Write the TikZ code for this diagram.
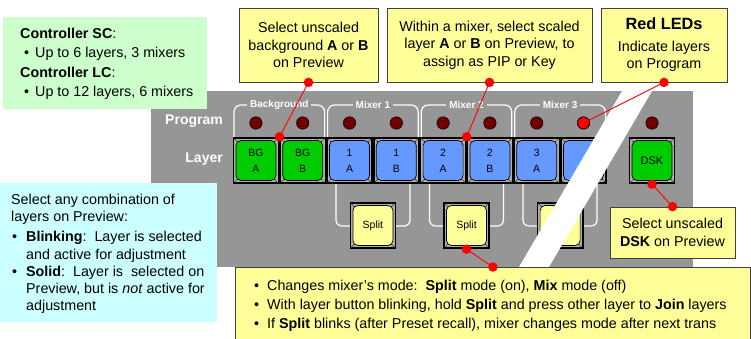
\documentclass[tikz,border=0pt]{standalone}
\usepackage{fontspec}
\setmainfont{Liberation Sans}
\usetikzlibrary{calc}

\definecolor{panel}{HTML}{969696}
\definecolor{notegreen}{HTML}{CCFFCC}
\definecolor{notecyan}{HTML}{CCFFFF}
\definecolor{noteyellow}{HTML}{FFFF99}
\definecolor{keygreen}{HTML}{00CC00}
\definecolor{keyblue}{HTML}{6699FF}
\definecolor{ledoff}{HTML}{6E0000}
\definecolor{bevel}{HTML}{AEAEAE}
\definecolor{pin}{HTML}{FF0000}

\newcommand{\bulbox}[1]{\makebox[#1][l]{\textbullet}}

\begin{document}
\begin{tikzpicture}[x=1pt,y=-1pt,
  callout/.style={draw=black!75, line width=0.8pt, fill=noteyellow, inner sep=0pt,
    align=center, font=\fontsize{14.3}{17.5}\selectfont},
  notetext/.style={anchor=north west, inner sep=0pt, align=left},
  bezel/.style={rectangle, fill=black, minimum width=46.8pt, minimum height=47pt, inner sep=0pt,
    path picture={
      \fill[bevel] ([shift={(1.6pt,1.6pt)}]path picture bounding box.south west)
        rectangle ([shift={(-1.6pt,-1.6pt)}]path picture bounding box.north east);
      \foreach \c/\sx/\sy in {south west/1/1,south east/-1/1,north west/1/-1,north east/-1/-1}
        \draw[black!80, line width=0.5pt]
          ([shift={(\sx*1.6pt,\sy*1.6pt)}]path picture bounding box.\c) --
          ([shift={(\sx*5.5pt,\sy*5.5pt)}]path picture bounding box.\c);
    }},
  keycap/.style={draw=black, line width=0.7pt, rounded corners=5pt, minimum size=40pt,
    inner sep=0pt, align=center, font=\fontsize{10.5}{16}\selectfont},
  led/.style={circle, fill=ledoff, draw=black, line width=0.5pt, minimum size=12.5pt, inner sep=0pt},
  groupline/.style={draw=white, line width=1.2pt, rounded corners=7pt},
  grouplabel/.style={fill=panel, text=white, inner xsep=3pt, inner ysep=1pt,
    font=\bfseries\fontsize{10}{12}\selectfont},
  rowlabel/.style={anchor=mid east, inner sep=0pt, text=white, font=\bfseries\fontsize{14}{16}\selectfont},
  pinline/.style={draw=pin, line width=0.9pt},
  pindot/.style={circle, fill=pin, minimum size=9.5pt, inner sep=0pt},
]
\useasboundingbox (0,0) rectangle (751,339);

% switcher panel
\fill[panel] (151,91) rectangle (693,267);

% info notes on the left
\node[fill=notegreen, minimum width=204pt, minimum height=92pt, anchor=north west, inner sep=0pt]
  (specs) at (3,17) {};
\node[notetext, font=\fontsize{14.3}{19.6}\selectfont] (specstext) at (20,27.5)
  {\textbf{Controller SC}:\\
   \hspace*{4pt}\bulbox{11pt}Up to 6 layers, 3 mixers\\
   \textbf{Controller LC}:\\
   \hspace*{4pt}\bulbox{11pt}Up to 12 layers, 6 mixers};

\node[fill=notecyan, minimum width=217pt, minimum height=139pt, anchor=north west, inner sep=0pt]
  (layerhelp) at (0,183) {};
\node[notetext, font=\fontsize{14.3}{17.2}\selectfont] (layerhelptext) at (11,193.5)
  {Select any combination of\\
   layers on Preview:\\[3.5pt]
   \hspace*{1pt}\bulbox{14pt}\textbf{Blinking}:\ \ Layer is selected\\
   \hspace*{15pt}and active for adjustment\\
   \hspace*{1pt}\bulbox{14pt}\textbf{Solid}:\ \ Layer is\ \ selected on\\
   \hspace*{15pt}Preview, but is \textit{not} active for\\
   \hspace*{15pt}adjustment};

% row captions
\node[rowlabel] (lblprog) at (223,121.5) {Program};
\node[rowlabel] (lbllayer) at (223,160) {Layer};

% group brackets above the program LEDs
\draw[groupline] (234,137) -- (234,105) -- (324.6,105) -- (324.6,137);
\draw[groupline] (327.6,137) -- (327.6,105) -- (418.2,105) -- (418.2,137);
\draw[groupline] (421.2,137) -- (421.2,105) -- (511.8,105) -- (511.8,137);
\draw[groupline] (514.8,137) -- (514.8,105) -- (605.4,105) -- (605.4,137);
\node[grouplabel] (gbg) at (279.3,105) {Background};
\node[grouplabel] (gm1) at (372.9,105) {Mixer 1};
\node[grouplabel] (gm2) at (466.5,105) {Mixer 2};
\node[grouplabel] (gm3) at (560.1,105) {Mixer 3};

% brackets tying each mixer to its Split key
\draw[groupline, rounded corners=6pt] (336,184) -- (336,226) -- (410,226) -- (410,184);
\draw[groupline, rounded corners=6pt] (429.5,184) -- (429.5,226) -- (503.5,226) -- (503.5,184);
\draw[groupline, rounded corners=6pt] (523,184) -- (523,226) -- (597,226) -- (597,184);

% program tally LEDs
\node[led] (ledbga) at (255.9,123) {};
\node[led] (ledbgb) at (302.7,123) {};
\node[led] (led1a) at (349.5,123) {};
\node[led] (led1b) at (396.3,123) {};
\node[led] (led2a) at (443.1,123) {};
\node[led] (led2b) at (489.9,123) {};
\node[led] (led3a) at (536.7,123) {};
\node[led] (led3b) at (583.5,123) {};
\node[led] (leddsk) at (652,123) {};

% layer key bezels
\node[bezel] (bzbga) at (255.9,160.5) {};
\node[bezel] (bzbgb) at (302.7,160.5) {};
\node[bezel] (bz1a) at (349.5,160.5) {};
\node[bezel] (bz1b) at (396.3,160.5) {};
\node[bezel] (bz2a) at (443.1,160.5) {};
\node[bezel] (bz2b) at (489.9,160.5) {};
\node[bezel] (bz3a) at (536.7,160.5) {};
\node[bezel] (bz3b) at (583.5,160.5) {};
\node[bezel] (bzdsk) at (652,160.5) {};
\node[bezel] (bzs1) at (372.9,225.5) {};
\node[bezel] (bzs2) at (466.5,225.5) {};
\node[bezel] (bzs3) at (560.1,225.5) {};

% layer keys
\node[keycap, fill=keygreen] (kbga) at (bzbga) {BG\\A};
\node[keycap, fill=keygreen] (kbgb) at (bzbgb) {BG\\B};
\node[keycap, fill=keyblue] (k1a) at (bz1a) {1\\A};
\node[keycap, fill=keyblue] (k1b) at (bz1b) {1\\B};
\node[keycap, fill=keyblue] (k2a) at (bz2a) {2\\A};
\node[keycap, fill=keyblue] (k2b) at (bz2b) {2\\B};
\node[keycap, fill=keyblue] (k3a) at (bz3a) {3\\A};
\node[keycap, fill=keyblue] (k3b) at (bz3b) {};
\node[keycap, fill=keygreen, font=\fontsize{11}{13}\selectfont] (kdsk) at (bzdsk) {DSK};
\node[keycap, fill=noteyellow] (ks1) at (bzs1) {Split};
\node[keycap, fill=noteyellow] (ks2) at (bzs2) {Split};
\node[keycap, fill=noteyellow] (ks3) at (bzs3) {Split};

% break in the panel
\fill[white] (622,91) -- (652,91) -- (549,267) -- (519,267) -- cycle;

% callouts
\node[callout, minimum width=139pt, minimum height=74pt] (cbg) at (308.5,45)
  {Select unscaled\\background \textbf{A} or \textbf{B}\\on Preview};
\node[callout, minimum width=205pt, minimum height=74pt] (cmix) at (489.5,45)
  {Within a mixer, select scaled\\layer \textbf{A} or \textbf{B} on Preview, to\\assign as PIP or Key};
\node[callout, minimum width=126pt, minimum height=74pt] (cled) at (664,45)
  {{\bfseries\fontsize{16.3}{18}\selectfont Red LEDs}\\[4pt]Indicate layers\\on Program};
\node[callout, minimum width=125pt, minimum height=51pt, font=\fontsize{14.3}{18}\selectfont] (cdsk) at (672.5,232.5)
  {Select unscaled\\\textbf{DSK} on Preview};
\node[draw=black!75, line width=0.8pt, fill=noteyellow, minimum width=515pt, minimum height=80pt,
  anchor=north west, inner sep=0pt] (modes) at (235,267) {};
\node[notetext, font=\fontsize{14.3}{19}\selectfont] (modestext) at (254,279.5)
  {\bulbox{13pt}Changes mixer’s mode:\ \ \textbf{Split} mode (on), \textbf{Mix} mode (off)\\
   \bulbox{13pt}With layer button blinking, hold \textbf{Split} and press other layer to \textbf{Join} layers\\
   \bulbox{13pt}If \textbf{Split} blinks (after Preset recall), mixer changes mode after next trans};

% red pointers
\draw[pinline] (cbg.south) -- (bzbga.north east);
\draw[pinline] (cmix.south) -- (bz2a.north east);
\draw[pinline] (cled.south) -- (led3b.center);
\draw[pinline] (bzdsk.south) -- (cdsk.north);
\draw[pinline] (bzs2.south) -- (modes.north);
\node[pindot] (pbg1) at (cbg.south) {};
\node[pindot] (pbg2) at (bzbga.north east) {};
\node[pindot] (pmix1) at (cmix.south) {};
\node[pindot] (pmix2) at (bz2a.north east) {};
\node[pindot] (pled1) at (cled.south) {};
\node[pindot, minimum size=11pt] (pled2) at (led3b.center) {};
\node[pindot] (pdsk1) at (bzdsk.south) {};
\node[pindot] (pdsk2) at (cdsk.north) {};
\node[pindot] (pmode1) at (bzs2.south) {};
\node[pindot] (pmode2) at (modes.north) {};
\end{tikzpicture}
\end{document}
